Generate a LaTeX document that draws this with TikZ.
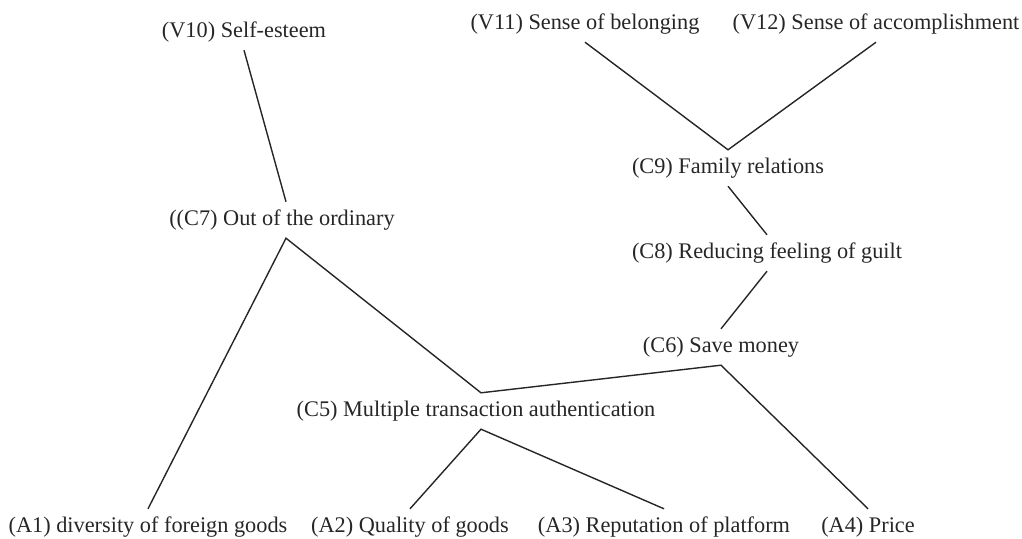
\documentclass[tikz,border=0pt]{standalone}
\usepackage{fontspec}
\setmainfont{Liberation Serif}
\usetikzlibrary{calc}
\usetikzlibrary{positioning}
\tikzstyle{lv}=[inner xsep=0pt, inner ysep=8pt, text height=15pt, text depth=5pt,
font=\fontsize{22.3}{26}\selectfont, text=black!85]
\tikzstyle{ln}=[draw=black!85, line width=1.4pt]

\begin{document}
\begin{tikzpicture}[x=1pt,y=-1pt]
\useasboundingbox (0,0) rectangle (1022,538);
% values
\node[lv] (v10) at (244,32) {(V10) Self-esteem};
\node[lv] (v11) at (585,24) {(V11) Sense of belonging};
\node[lv] (v12) at (876,24) {(V12) Sense of accomplishment};
% consequences
\node[lv] (c9) at (728,168) {(C9) Family relations};
\node[lv] (c7) at (282,220) {((C7) Out of the ordinary};
\node[lv] (c8) at (767,253) {(C8) Reducing feeling of guilt};
\node[lv] (c6) at (721,347) {(C6) Save money};
\node[lv] (c5) at (476,411) {(C5) Multiple transaction authentication};
% attributes
\node[lv] (a1) at (148,527) {(A1) diversity of foreign goods};
\node[lv] (a2) at (410,527) {(A2) Quality of goods};
\node[lv] (a3) at (664,527) {(A3) Reputation of platform};
\node[lv] (a4) at (868,527) {(A4) Price};

\draw[ln] (v10.south) -- ([xshift=4pt]c7.north);
\draw[ln] (v11.south) -- (c9.north) -- (v12.south);
\draw[ln] (c9.south) -- (c8.north);
\draw[ln] (c8.south) -- (c6.north);
\draw[ln] (a1.north) -- ([xshift=4pt]c7.south) -- ([xshift=5pt]c5.north) -- (c6.south) -- (a4.north);
\draw[ln] (a2.north) -- ([xshift=5pt]c5.south) -- (a3.north);
%\draw[ln] (c7.south) -- (c5.north);
\end{tikzpicture}
\end{document}
